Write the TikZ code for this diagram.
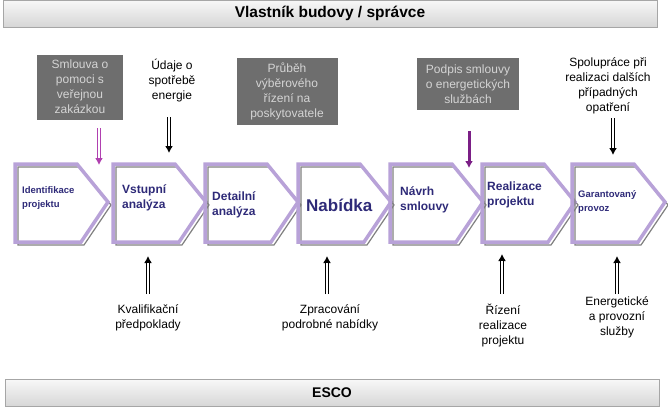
\documentclass[tikz,border=0pt]{standalone}
\usepackage{fontspec}
\setmainfont{Liberation Sans}
\usetikzlibrary{arrows.meta,positioning}
\definecolor{lilac}{HTML}{B8A2D8}
\definecolor{ink}{HTML}{2E2A78}
\definecolor{slate}{HTML}{6E6E6E}
\definecolor{pale}{HTML}{D4D4D4}
\definecolor{plum}{HTML}{7B1F86}
\definecolor{orchid}{HTML}{B040B0}

\begin{document}
\begin{tikzpicture}[x=1pt,y=-1pt,>=Latex,
  every node/.style={font=\fontsize{12}{15}\selectfont,align=center,inner sep=0pt},
  chev/.style={line width=3.5pt,lilac,line join=miter},
  chevshade/.style={line width=1.2pt,gray},
  phase/.style={anchor=west,align=left,text=ink,font=\bfseries\fontsize{#1}{15}\selectfont},
  grbox/.style={fill=slate,text=pale},
  darr/.style={line width=3.4pt,-{Latex[length=7pt,width=8pt]},
    postaction={draw=white,line width=1.3pt,-,shorten >=7pt}},
  sarr/.style={line width=3pt,-{Latex[length=7pt,width=8pt]}},
  banner/.style={top color=gray!6,bottom color=gray!32,draw=gray!70,minimum width=654,minimum height=27,font=\bfseries\fontsize{14}{16}\selectfont}]
\useasboundingbox (0,0) rectangle (668,407);
\node[banner,font=\bfseries\fontsize{15.5}{17}\selectfont] (owner) at (330,13.5) {Vlastník budovy / správce};
\node[banner] (esco) at (332,393) {ESCO};

\foreach \x in {15,113,205,298,390,482,572}{
  \draw[chevshade] (\x+3,167) -- ++(62,0) -- ++(31,38) -- ++(-27,40) -- (\x+3,245) -- cycle;
  \draw[chev] (\x,164) -- ++(62,0) -- ++(31,38) -- ++(-27,40) -- (\x,242) -- cycle;
}

\node[phase=9.5] (p1) at (22,198) {Identifikace\\[-1pt]projektu};
\node[phase=12] (p2) at (122,198) {Vstupní\\analýza};
\node[phase=12] (p3) at (212,205) {Detailní\\analýza};
\node[phase=17] (p4) at (306,205) {Nabídka};
\node[phase=12] (p5) at (400,200) {Návrh\\smlouvy};
\node[phase=12] (p6) at (487,195) {Realizace\\projektu};
\node[phase=9.5] (p7) at (578,202) {Garantovaný\\[-1pt]provoz};

\node[grbox,minimum width=86,minimum height=65] (b1) at (80,87) {Smlouva o\\pomoci s\\veřejnou\\zakázkou};
\node (d1) at (172,81) {Údaje o\\spotřebě\\energie};
\node[grbox,minimum width=101,minimum height=67] (b2) at (287,91) {Průběh\\výběrového\\řízení na\\poskytovatele};
\node[grbox,minimum width=102,minimum height=52] (b3) at (468,84) {Podpis smlouvy\\o energetických\\službách};
\node (d2) at (608,86) {Spolupráce při\\realizaci dalších\\případných\\opatření};

\node (u1) at (148,318) {Kvalifikační\\předpoklady};
\node (u2) at (330,318) {Zpracování\\podrobné nabídky};
\node (u3) at (503,325) {Řízení\\realizace\\projektu};
\node (u4) at (617,317) {Energetické\\a provozní\\služby};

\coordinate (s1) at (99,128);  \coordinate (e1) at (99,165);
\coordinate (s2) at (169,117); \coordinate (e2) at (169,153);
\coordinate (s3) at (469,131); \coordinate (e3) at (469,168);
\coordinate (s4) at (613,118); \coordinate (e4) at (613,155);
\draw[darr,orchid] (s1) -- (e1);
\draw[darr] (s2) -- (e2);
\draw[sarr,plum] (s3) -- (e3);
\draw[darr] (s4) -- (e4);

\coordinate (f1) at (148,294); \coordinate (g1) at (148,256);
\coordinate (f2) at (327,294); \coordinate (g2) at (327,256);
\coordinate (f3) at (502,294); \coordinate (g3) at (502,254);
\coordinate (f4) at (617,294); \coordinate (g4) at (617,256);
\foreach \i in {1,...,4}
  \draw[darr] (f\i) -- (g\i);
\end{tikzpicture}
\end{document}
